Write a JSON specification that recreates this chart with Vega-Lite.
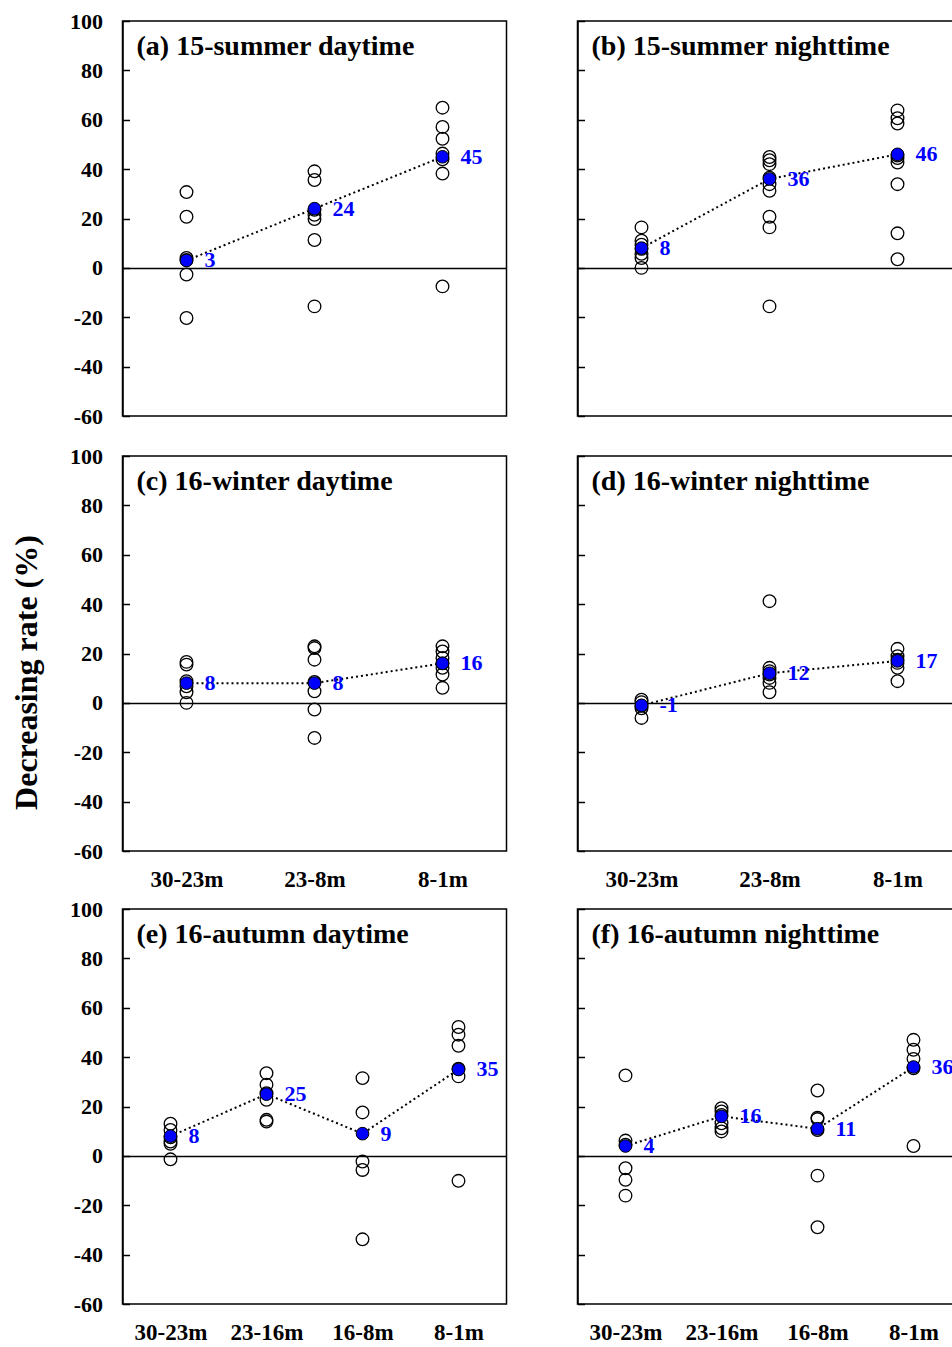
{
  "$schema": "https://vega.github.io/schema/vega-lite/v6.json",
  "padding": {"left": 9.5, "top": 9, "right": 0, "bottom": 5},
  "background": "white",
  "config": {
    "font": "Liberation Serif",
    "view": {"stroke": "black", "strokeWidth": 1.5},
    "axis": {"labelColor": "black", "labelFont": "Liberation Serif", "titleFont": "Liberation Serif", "titleColor": "black"}
  },
  "datasets": {
    "pts": [
      {"p":"a","c":"30-23m","v":30.7},{"p":"a","c":"30-23m","v":20.7},{"p":"a","c":"30-23m","v":4.0},{"p":"a","c":"30-23m","v":3.2},{"p":"a","c":"30-23m","v":-2.7},{"p":"a","c":"30-23m","v":-20.3},
      {"p":"a","c":"23-8m","v":39.1},{"p":"a","c":"23-8m","v":35.6},{"p":"a","c":"23-8m","v":23.5},{"p":"a","c":"23-8m","v":21.5},{"p":"a","c":"23-8m","v":19.8},{"p":"a","c":"23-8m","v":11.3},{"p":"a","c":"23-8m","v":-15.6},
      {"p":"a","c":"8-1m","v":64.9},{"p":"a","c":"8-1m","v":57.1},{"p":"a","c":"8-1m","v":52.3},{"p":"a","c":"8-1m","v":46.3},{"p":"a","c":"8-1m","v":44.0},{"p":"a","c":"8-1m","v":38.2},{"p":"a","c":"8-1m","v":-7.5},
      {"p":"b","c":"30-23m","v":16.4},{"p":"b","c":"30-23m","v":11.0},{"p":"b","c":"30-23m","v":9.4},{"p":"b","c":"30-23m","v":7.7},{"p":"b","c":"30-23m","v":5.7},{"p":"b","c":"30-23m","v":4.0},{"p":"b","c":"30-23m","v":0},
      {"p":"b","c":"23-8m","v":44.9},{"p":"b","c":"23-8m","v":43.6},{"p":"b","c":"23-8m","v":42.0},{"p":"b","c":"23-8m","v":36.5},{"p":"b","c":"23-8m","v":33.9},{"p":"b","c":"23-8m","v":31.2},{"p":"b","c":"23-8m","v":20.7},{"p":"b","c":"23-8m","v":16.4},{"p":"b","c":"23-8m","v":-15.6},
      {"p":"b","c":"8-1m","v":63.8},{"p":"b","c":"8-1m","v":60.6},{"p":"b","c":"8-1m","v":58.5},{"p":"b","c":"8-1m","v":45.5},{"p":"b","c":"8-1m","v":44.5},{"p":"b","c":"8-1m","v":42.7},{"p":"b","c":"8-1m","v":33.9},{"p":"b","c":"8-1m","v":14.0},{"p":"b","c":"8-1m","v":3.5},
      {"p":"c","c":"30-23m","v":16.6},{"p":"c","c":"30-23m","v":15.5},{"p":"c","c":"30-23m","v":8.8},{"p":"c","c":"30-23m","v":6.7},{"p":"c","c":"30-23m","v":4.3},{"p":"c","c":"30-23m","v":0},
      {"p":"c","c":"23-8m","v":22.9},{"p":"c","c":"23-8m","v":22.2},{"p":"c","c":"23-8m","v":17.5},{"p":"c","c":"23-8m","v":8.5},{"p":"c","c":"23-8m","v":4.7},{"p":"c","c":"23-8m","v":-2.7},{"p":"c","c":"23-8m","v":-14.2},
      {"p":"c","c":"8-1m","v":22.9},{"p":"c","c":"8-1m","v":20.8},{"p":"c","c":"8-1m","v":18.2},{"p":"c","c":"8-1m","v":16.0},{"p":"c","c":"8-1m","v":14.2},{"p":"c","c":"8-1m","v":11.5},{"p":"c","c":"8-1m","v":6.1},
      {"p":"d","c":"30-23m","v":1.3},{"p":"d","c":"30-23m","v":0.3},{"p":"d","c":"30-23m","v":-1.2},{"p":"d","c":"30-23m","v":-2.2},{"p":"d","c":"30-23m","v":-6.1},
      {"p":"d","c":"23-8m","v":41.2},{"p":"d","c":"23-8m","v":14.2},{"p":"d","c":"23-8m","v":12.8},{"p":"d","c":"23-8m","v":11.5},{"p":"d","c":"23-8m","v":10.1},{"p":"d","c":"23-8m","v":8.1},{"p":"d","c":"23-8m","v":4.3},
      {"p":"d","c":"8-1m","v":21.9},{"p":"d","c":"8-1m","v":18.9},{"p":"d","c":"8-1m","v":17.5},{"p":"d","c":"8-1m","v":16.2},{"p":"d","c":"8-1m","v":14.2},{"p":"d","c":"8-1m","v":8.8},
      {"p":"e","c":"30-23m","v":13.0},{"p":"e","c":"30-23m","v":10.5},{"p":"e","c":"30-23m","v":7.5},{"p":"e","c":"30-23m","v":5.8},{"p":"e","c":"30-23m","v":4.9},{"p":"e","c":"30-23m","v":-1.4},
      {"p":"e","c":"23-16m","v":33.5},{"p":"e","c":"23-16m","v":28.8},{"p":"e","c":"23-16m","v":25.4},{"p":"e","c":"23-16m","v":22.7},{"p":"e","c":"23-16m","v":14.6},{"p":"e","c":"23-16m","v":13.9},
      {"p":"e","c":"16-8m","v":31.5},{"p":"e","c":"16-8m","v":17.6},{"p":"e","c":"16-8m","v":-2.3},{"p":"e","c":"16-8m","v":-5.7},{"p":"e","c":"16-8m","v":-33.8},
      {"p":"e","c":"8-1m","v":52.2},{"p":"e","c":"8-1m","v":49.1},{"p":"e","c":"8-1m","v":44.6},{"p":"e","c":"8-1m","v":35.3},{"p":"e","c":"8-1m","v":32.2},{"p":"e","c":"8-1m","v":-10.1},
      {"p":"f","c":"30-23m","v":32.6},{"p":"f","c":"30-23m","v":6.2},{"p":"f","c":"30-23m","v":4.5},{"p":"f","c":"30-23m","v":-5.0},{"p":"f","c":"30-23m","v":-9.7},{"p":"f","c":"30-23m","v":-16.1},
      {"p":"f","c":"23-16m","v":19.3},{"p":"f","c":"23-16m","v":18.0},{"p":"f","c":"23-16m","v":16.6},{"p":"f","c":"23-16m","v":13.2},{"p":"f","c":"23-16m","v":11.2},{"p":"f","c":"23-16m","v":9.9},
      {"p":"f","c":"16-8m","v":26.5},{"p":"f","c":"16-8m","v":15.5},{"p":"f","c":"16-8m","v":14.9},{"p":"f","c":"16-8m","v":10.5},{"p":"f","c":"16-8m","v":-8.0},{"p":"f","c":"16-8m","v":-28.9},
      {"p":"f","c":"8-1m","v":47.0},{"p":"f","c":"8-1m","v":43.0},{"p":"f","c":"8-1m","v":39.3},{"p":"f","c":"8-1m","v":35.5},{"p":"f","c":"8-1m","v":4.0}
    ],
    "means": [
      {"p":"a","c":"30-23m","v":3},{"p":"a","c":"23-8m","v":24},{"p":"a","c":"8-1m","v":45},
      {"p":"b","c":"30-23m","v":8},{"p":"b","c":"23-8m","v":36},{"p":"b","c":"8-1m","v":46},
      {"p":"c","c":"30-23m","v":8},{"p":"c","c":"23-8m","v":8},{"p":"c","c":"8-1m","v":16},
      {"p":"d","c":"30-23m","v":-1},{"p":"d","c":"23-8m","v":12},{"p":"d","c":"8-1m","v":17},
      {"p":"e","c":"30-23m","v":8},{"p":"e","c":"23-16m","v":25},{"p":"e","c":"16-8m","v":9},{"p":"e","c":"8-1m","v":35},
      {"p":"f","c":"30-23m","v":4},{"p":"f","c":"23-16m","v":16},{"p":"f","c":"16-8m","v":11},{"p":"f","c":"8-1m","v":36}
    ]
  },
  "columns": 2,
  "spacing": {"row": 5, "column": 68},
  "concat": [
    {
      "width": 384, "height": 395,
      "title": {"text": "(a) 15-summer daytime", "anchor": "start", "frame": "group", "orient": "top", "dx": 14, "offset": -72.5, "baseline": "alphabetic", "fontSize": 28, "fontWeight": "bold", "font": "Liberation Serif", "color": "black"},
      "encoding": {
        "x": {"field": "c", "type": "ordinal", "scale": {"type": "point", "domain": ["30-23m","23-8m","8-1m"], "padding": 0.5}, "axis": {"labels": false, "domain": false, "grid": false, "ticks": true, "tickSize": 22, "tickOpacity": 0, "title": null}},
        "y": {"field": "v", "type": "quantitative", "scale": {"domain": [-60, 100], "nice": false}, "axis": {"values": [-60,-40,-20,0,20,40,60,80,100], "labelExpr": "'' + datum.value", "tickSize": -7, "labelPadding": 27, "labelFontSize": 22, "labelFontWeight": "bold", "labelFlush": false, "labelOverlap": false, "domainColor": "black", "domainWidth": 1.5, "tickColor": "black", "tickWidth": 1.5, "grid": true, "gridColor": {"condition": {"test": "datum.value === 0", "value": "black"}, "value": "transparent"}, "gridWidth": 1.5, "gridOpacity": 1, "title": null}}
      },
      "layer": [
        {"data": {"name": "pts"}, "transform": [{"filter": "datum.p === 'a'"}], "mark": {"type": "point", "shape": "circle", "size": 160, "filled": false, "stroke": "black", "strokeWidth": 1.3, "opacity": 1}},
        {"data": {"name": "means"}, "transform": [{"filter": "datum.p === 'a'"}], "mark": {"type": "line", "color": "black", "strokeWidth": 2, "strokeDash": [2, 3]}},
        {"data": {"name": "means"}, "transform": [{"filter": "datum.p === 'a'"}], "mark": {"type": "point", "shape": "circle", "size": 160, "filled": true, "fill": "#0000ff", "stroke": "black", "strokeWidth": 1, "opacity": 1}},
        {"data": {"name": "means"}, "transform": [{"filter": "datum.p === 'a'"}], "mark": {"type": "text", "align": "left", "baseline": "middle", "dx": 18, "fontSize": 22, "fontWeight": "bold", "color": "#0000ff"}, "encoding": {"text": {"field": "v", "type": "nominal"}}}
      ]
    },
    {
      "width": 384, "height": 395,
      "title": {"text": "(b) 15-summer nighttime", "anchor": "start", "frame": "group", "orient": "top", "dx": 14, "offset": -62.75, "baseline": "alphabetic", "fontSize": 28, "fontWeight": "bold", "font": "Liberation Serif", "color": "black"},
      "encoding": {
        "x": {"field": "c", "type": "ordinal", "scale": {"type": "point", "domain": ["30-23m","23-8m","8-1m"], "padding": 0.5}, "axis": {"labels": false, "domain": false, "grid": false, "ticks": true, "tickSize": 22, "tickOpacity": 0, "title": null}},
        "y": {"field": "v", "type": "quantitative", "scale": {"domain": [-60, 100], "nice": false}, "axis": {"values": [-60,-40,-20,0,20,40,60,80,100], "labels": false, "tickSize": -7, "domainColor": "black", "domainWidth": 1.5, "tickColor": "black", "tickWidth": 1.5, "grid": true, "gridColor": {"condition": {"test": "datum.value === 0", "value": "black"}, "value": "transparent"}, "gridWidth": 1.5, "gridOpacity": 1, "title": null}}
      },
      "layer": [
        {"data": {"name": "pts"}, "transform": [{"filter": "datum.p === 'b'"}], "mark": {"type": "point", "shape": "circle", "size": 160, "filled": false, "stroke": "black", "strokeWidth": 1.3, "opacity": 1}},
        {"data": {"name": "means"}, "transform": [{"filter": "datum.p === 'b'"}], "mark": {"type": "line", "color": "black", "strokeWidth": 2, "strokeDash": [2, 3]}},
        {"data": {"name": "means"}, "transform": [{"filter": "datum.p === 'b'"}], "mark": {"type": "point", "shape": "circle", "size": 160, "filled": true, "fill": "#0000ff", "stroke": "black", "strokeWidth": 1, "opacity": 1}},
        {"data": {"name": "means"}, "transform": [{"filter": "datum.p === 'b'"}], "mark": {"type": "text", "align": "left", "baseline": "middle", "dx": 18, "fontSize": 22, "fontWeight": "bold", "color": "#0000ff"}, "encoding": {"text": {"field": "v", "type": "nominal"}}}
      ]
    },
    {
      "width": 384, "height": 395,
      "title": {"text": "(c) 16-winter daytime", "anchor": "start", "frame": "group", "orient": "top", "dx": 14, "offset": -72.5, "baseline": "alphabetic", "fontSize": 28, "fontWeight": "bold", "font": "Liberation Serif", "color": "black"},
      "encoding": {
        "x": {"field": "c", "type": "ordinal", "scale": {"type": "point", "domain": ["30-23m","23-8m","8-1m"], "padding": 0.5}, "axis": {"labels": true, "domain": false, "grid": false, "ticks": false, "labelPadding": 17, "labelFontSize": 23, "labelFontWeight": "bold", "labelAngle": 0, "title": null}},
        "y": {"field": "v", "type": "quantitative", "scale": {"domain": [-60, 100], "nice": false}, "axis": {"values": [-60,-40,-20,0,20,40,60,80,100], "labelExpr": "'' + datum.value", "tickSize": -7, "labelPadding": 27, "labelFontSize": 22, "labelFontWeight": "bold", "labelFlush": false, "labelOverlap": false, "domainColor": "black", "domainWidth": 1.5, "tickColor": "black", "tickWidth": 1.5, "grid": true, "gridColor": {"condition": {"test": "datum.value === 0", "value": "black"}, "value": "transparent"}, "gridWidth": 1.5, "gridOpacity": 1, "title": "Decreasing rate (%)", "titleFontSize": 32, "titleFontWeight": "bold", "titleX": -96, "titleY": 216, "titleAngle": -90, "titleAlign": "center", "titleBaseline": "middle"}}
      },
      "layer": [
        {"data": {"name": "pts"}, "transform": [{"filter": "datum.p === 'c'"}], "mark": {"type": "point", "shape": "circle", "size": 160, "filled": false, "stroke": "black", "strokeWidth": 1.3, "opacity": 1}},
        {"data": {"name": "means"}, "transform": [{"filter": "datum.p === 'c'"}], "mark": {"type": "line", "color": "black", "strokeWidth": 2, "strokeDash": [2, 3]}},
        {"data": {"name": "means"}, "transform": [{"filter": "datum.p === 'c'"}], "mark": {"type": "point", "shape": "circle", "size": 160, "filled": true, "fill": "#0000ff", "stroke": "black", "strokeWidth": 1, "opacity": 1}},
        {"data": {"name": "means"}, "transform": [{"filter": "datum.p === 'c'"}], "mark": {"type": "text", "align": "left", "baseline": "middle", "dx": 18, "fontSize": 22, "fontWeight": "bold", "color": "#0000ff"}, "encoding": {"text": {"field": "v", "type": "nominal"}}}
      ]
    },
    {
      "width": 384, "height": 395,
      "title": {"text": "(d) 16-winter nighttime", "anchor": "start", "frame": "group", "orient": "top", "dx": 14, "offset": -62.75, "baseline": "alphabetic", "fontSize": 28, "fontWeight": "bold", "font": "Liberation Serif", "color": "black"},
      "encoding": {
        "x": {"field": "c", "type": "ordinal", "scale": {"type": "point", "domain": ["30-23m","23-8m","8-1m"], "padding": 0.5}, "axis": {"labels": true, "domain": false, "grid": false, "ticks": false, "labelPadding": 17, "labelFontSize": 23, "labelFontWeight": "bold", "labelAngle": 0, "title": null}},
        "y": {"field": "v", "type": "quantitative", "scale": {"domain": [-60, 100], "nice": false}, "axis": {"values": [-60,-40,-20,0,20,40,60,80,100], "labels": false, "tickSize": -7, "domainColor": "black", "domainWidth": 1.5, "tickColor": "black", "tickWidth": 1.5, "grid": true, "gridColor": {"condition": {"test": "datum.value === 0", "value": "black"}, "value": "transparent"}, "gridWidth": 1.5, "gridOpacity": 1, "title": null}}
      },
      "layer": [
        {"data": {"name": "pts"}, "transform": [{"filter": "datum.p === 'd'"}], "mark": {"type": "point", "shape": "circle", "size": 160, "filled": false, "stroke": "black", "strokeWidth": 1.3, "opacity": 1}},
        {"data": {"name": "means"}, "transform": [{"filter": "datum.p === 'd'"}], "mark": {"type": "line", "color": "black", "strokeWidth": 2, "strokeDash": [2, 3]}},
        {"data": {"name": "means"}, "transform": [{"filter": "datum.p === 'd'"}], "mark": {"type": "point", "shape": "circle", "size": 160, "filled": true, "fill": "#0000ff", "stroke": "black", "strokeWidth": 1, "opacity": 1}},
        {"data": {"name": "means"}, "transform": [{"filter": "datum.p === 'd'"}], "mark": {"type": "text", "align": "left", "baseline": "middle", "dx": 18, "fontSize": 22, "fontWeight": "bold", "color": "#0000ff"}, "encoding": {"text": {"field": "v", "type": "nominal"}}}
      ]
    },
    {
      "width": 384, "height": 395,
      "title": {"text": "(e) 16-autumn daytime", "anchor": "start", "frame": "group", "orient": "top", "dx": 14, "offset": -72.5, "baseline": "alphabetic", "fontSize": 28, "fontWeight": "bold", "font": "Liberation Serif", "color": "black"},
      "encoding": {
        "x": {"field": "c", "type": "ordinal", "scale": {"type": "point", "domain": ["30-23m","23-16m","16-8m","8-1m"], "padding": 0.5}, "axis": {"labels": true, "domain": false, "grid": false, "ticks": false, "labelPadding": 17, "labelFontSize": 23, "labelFontWeight": "bold", "labelAngle": 0, "title": null}},
        "y": {"field": "v", "type": "quantitative", "scale": {"domain": [-60, 100], "nice": false}, "axis": {"values": [-60,-40,-20,0,20,40,60,80,100], "labelExpr": "'' + datum.value", "tickSize": -7, "labelPadding": 27, "labelFontSize": 22, "labelFontWeight": "bold", "labelFlush": false, "labelOverlap": false, "domainColor": "black", "domainWidth": 1.5, "tickColor": "black", "tickWidth": 1.5, "grid": true, "gridColor": {"condition": {"test": "datum.value === 0", "value": "black"}, "value": "transparent"}, "gridWidth": 1.5, "gridOpacity": 1, "title": null}}
      },
      "layer": [
        {"data": {"name": "pts"}, "transform": [{"filter": "datum.p === 'e'"}], "mark": {"type": "point", "shape": "circle", "size": 160, "filled": false, "stroke": "black", "strokeWidth": 1.3, "opacity": 1}},
        {"data": {"name": "means"}, "transform": [{"filter": "datum.p === 'e'"}], "mark": {"type": "line", "color": "black", "strokeWidth": 2, "strokeDash": [2, 3]}},
        {"data": {"name": "means"}, "transform": [{"filter": "datum.p === 'e'"}], "mark": {"type": "point", "shape": "circle", "size": 160, "filled": true, "fill": "#0000ff", "stroke": "black", "strokeWidth": 1, "opacity": 1}},
        {"data": {"name": "means"}, "transform": [{"filter": "datum.p === 'e'"}], "mark": {"type": "text", "align": "left", "baseline": "middle", "dx": 18, "fontSize": 22, "fontWeight": "bold", "color": "#0000ff"}, "encoding": {"text": {"field": "v", "type": "nominal"}}}
      ]
    },
    {
      "width": 384, "height": 395,
      "title": {"text": "(f) 16-autumn nighttime", "anchor": "start", "frame": "group", "orient": "top", "dx": 14, "offset": -62.75, "baseline": "alphabetic", "fontSize": 28, "fontWeight": "bold", "font": "Liberation Serif", "color": "black"},
      "encoding": {
        "x": {"field": "c", "type": "ordinal", "scale": {"type": "point", "domain": ["30-23m","23-16m","16-8m","8-1m"], "padding": 0.5}, "axis": {"labels": true, "domain": false, "grid": false, "ticks": false, "labelPadding": 17, "labelFontSize": 23, "labelFontWeight": "bold", "labelAngle": 0, "title": null}},
        "y": {"field": "v", "type": "quantitative", "scale": {"domain": [-60, 100], "nice": false}, "axis": {"values": [-60,-40,-20,0,20,40,60,80,100], "labels": false, "tickSize": -7, "domainColor": "black", "domainWidth": 1.5, "tickColor": "black", "tickWidth": 1.5, "grid": true, "gridColor": {"condition": {"test": "datum.value === 0", "value": "black"}, "value": "transparent"}, "gridWidth": 1.5, "gridOpacity": 1, "title": null}}
      },
      "layer": [
        {"data": {"name": "pts"}, "transform": [{"filter": "datum.p === 'f'"}], "mark": {"type": "point", "shape": "circle", "size": 160, "filled": false, "stroke": "black", "strokeWidth": 1.3, "opacity": 1}},
        {"data": {"name": "means"}, "transform": [{"filter": "datum.p === 'f'"}], "mark": {"type": "line", "color": "black", "strokeWidth": 2, "strokeDash": [2, 3]}},
        {"data": {"name": "means"}, "transform": [{"filter": "datum.p === 'f'"}], "mark": {"type": "point", "shape": "circle", "size": 160, "filled": true, "fill": "#0000ff", "stroke": "black", "strokeWidth": 1, "opacity": 1}},
        {"data": {"name": "means"}, "transform": [{"filter": "datum.p === 'f'"}], "mark": {"type": "text", "align": "left", "baseline": "middle", "dx": 18, "fontSize": 22, "fontWeight": "bold", "color": "#0000ff"}, "encoding": {"text": {"field": "v", "type": "nominal"}}}
      ]
    }
  ]
}
